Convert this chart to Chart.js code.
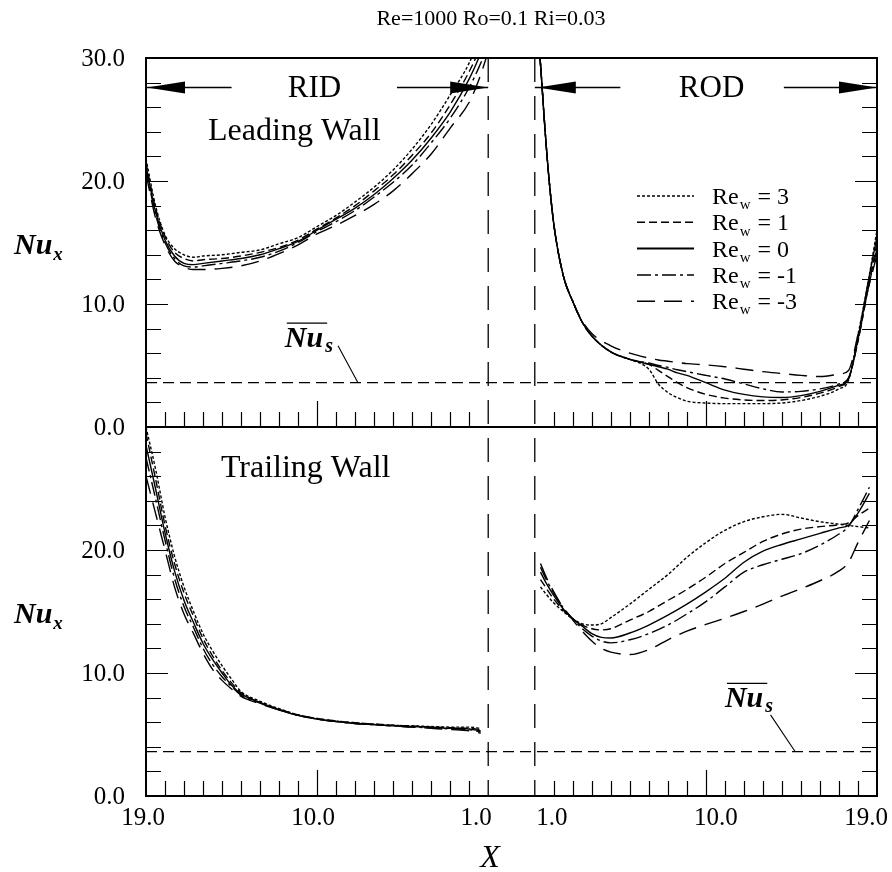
<!DOCTYPE html>
<html>
<head>
<meta charset="utf-8">
<script src="https://cdn.jsdelivr.net/npm/chart.js@4.4.0/dist/chart.umd.min.js"></script>
<style>
  body { margin: 0; background: #fff; }
  #wrap { width: 892px; height: 872px; }
</style>
</head>
<body>
<div id="wrap"><canvas id="nu" width="892" height="872"></canvas></div>
<script>
// Local Nusselt number, Re=1000 Ro=0.1 Ri=0.03, five wall suction / blowing cases
var series = ["3", "1", "0", "-1", "-3"];
var dashes = [[3, 2], [8, 4], [], [14, 4, 3, 4], [18, 9]];

// leading wall, RID part (X goes 19 -> 1)
var leadRidX = [19, 18.5, 18, 17.5, 17, 16.5, 16, 15, 14, 13, 12, 11, 10, 9, 8, 7, 6, 5, 4, 3, 2, 1.5, 1];
var leadRid = [
  [21.8, 18.0, 15.6, 14.5, 14.0, 13.8, 13.9, 14.0, 14.2, 14.4, 14.9, 15.4, 16.3, 17.2, 18.3, 19.5, 20.9, 22.6, 24.6, 27.0, 29.6, 31.5, 34],
  [21.5, 17.8, 15.5, 14.2, 13.7, 13.5, 13.6, 13.7, 13.9, 14.2, 14.6, 15.2, 16.1, 17.0, 18.0, 19.2, 20.5, 22.1, 23.9, 26.2, 28.9, 30.6, 33],
  [21.2, 17.5, 15.2, 13.9, 13.3, 13.2, 13.3, 13.5, 13.7, 14.0, 14.5, 15.1, 16.0, 16.9, 17.8, 18.9, 20.2, 21.7, 23.5, 25.6, 28.3, 30.0, 32],
  [21.0, 17.3, 15.0, 13.7, 13.1, 13.0, 13.1, 13.3, 13.5, 13.8, 14.3, 15.0, 15.9, 16.7, 17.6, 18.7, 19.9, 21.3, 23.1, 25.1, 27.6, 29.2, 31],
  [20.6, 17.0, 14.8, 13.5, 13.0, 12.8, 12.8, 12.9, 13.1, 13.5, 14.1, 14.8, 15.7, 16.4, 17.2, 18.1, 19.2, 20.6, 22.2, 24.3, 26.4, 28.2, 30.5]
];

// leading wall, ROD part (X goes 1 -> 19)
var leadRodX = [1.15, 1.3, 1.5, 1.7, 2, 2.5, 3, 3.5, 4, 5, 6, 7, 7.5, 8, 8.5, 9, 10, 11, 12, 13, 14, 15, 16, 17, 17.5, 18, 18.5, 19];
var leadRod = [
  [32, 29.5, 25, 21, 16.5, 12.3, 10.2, 8.5, 7.4, 6.1, 5.5, 4.7, 3.5, 2.8, 2.4, 2.1, 1.95, 1.9, 1.9, 1.9, 1.95, 2.15, 2.5, 3.1, 3.8, 7.5, 11.5, 16],
  [32, 29.5, 25, 21, 16.5, 12.3, 10.2, 8.5, 7.4, 6.1, 5.5, 5.1, 4.6, 4.1, 3.6, 3.2, 2.65, 2.35, 2.2, 2.15, 2.2, 2.4, 2.75, 3.3, 3.9, 7.0, 11.0, 15],
  [32, 29.5, 25, 21, 16.5, 12.3, 10.2, 8.5, 7.4, 6.1, 5.5, 5.1, 4.9, 4.7, 4.4, 4.2, 3.6, 3.0, 2.65, 2.45, 2.4, 2.55, 2.9, 3.4, 3.9, 7.2, 11.5, 15.5],
  [32, 29.5, 25, 21, 16.5, 12.3, 10.2, 8.5, 7.4, 6.1, 5.5, 5.2, 5.0, 4.85, 4.65, 4.5, 4.2, 3.9, 3.5, 3.1, 2.85, 2.9, 3.1, 3.5, 4.0, 7.0, 11.0, 14.5],
  [32, 29.5, 25, 21, 16.5, 12.3, 10.2, 8.6, 7.6, 6.6, 6.0, 5.6, 5.45, 5.35, 5.25, 5.15, 5.05, 4.9, 4.7, 4.5, 4.35, 4.2, 4.1, 4.3, 4.6, 7.5, 11.0, 14]
];

// trailing wall, RID part
var trailRidX = [19, 18.5, 18, 17.5, 17, 16.5, 16, 15.5, 15, 14.5, 14, 13, 12, 11, 10, 9, 8, 7, 6, 5, 4, 3, 2, 1.4];
var trailRid = [
  [30.0, 26.6, 22.7, 19.5, 17.0, 15.0, 13.2, 11.8, 10.6, 9.5, 8.5, 7.7, 7.1, 6.6, 6.3, 6.1, 5.95, 5.85, 5.75, 5.7, 5.65, 5.6, 5.6, 5.5],
  [29.5, 25.8, 22.0, 18.9, 16.5, 14.6, 12.8, 11.4, 10.2, 9.2, 8.4, 7.6, 7.05, 6.6, 6.3, 6.1, 5.95, 5.85, 5.75, 5.7, 5.6, 5.55, 5.5, 5.4],
  [28.5, 25.0, 21.4, 18.3, 15.9, 14.1, 12.4, 11.1, 10.0, 9.0, 8.3, 7.6, 7.0, 6.55, 6.25, 6.05, 5.9, 5.8, 5.7, 5.65, 5.6, 5.5, 5.45, 5.3],
  [27.5, 24.2, 20.8, 17.7, 15.4, 13.7, 12.0, 10.7, 9.7, 8.9, 8.2, 7.55, 7.0, 6.55, 6.25, 6.05, 5.9, 5.8, 5.7, 5.6, 5.55, 5.45, 5.4, 5.2],
  [26.0, 23.0, 20.0, 17.0, 14.8, 13.2, 11.6, 10.3, 9.4, 8.7, 8.1, 7.5, 7.0, 6.55, 6.25, 6.05, 5.9, 5.8, 5.7, 5.6, 5.5, 5.4, 5.3, 5.1]
];

// trailing wall, ROD part
var trailRodX = [1.3, 1.6, 2, 2.5, 3, 3.5, 4, 4.5, 5, 6, 7, 8, 9, 10, 11, 12, 13, 14, 15, 16, 17, 17.5, 18, 18.6];
var trailRod = [
  [17.0, 16.4, 15.7, 15.0, 14.4, 14.0, 13.9, 14.0, 14.5, 15.6, 16.8, 18.0, 19.4, 20.6, 21.6, 22.3, 22.7, 22.9, 22.6, 22.3, 22.1, 22.0, 21.9, 21.8],
  [17.6, 16.9, 16.0, 15.1, 14.4, 13.9, 13.6, 13.5, 13.6, 14.3, 15.0, 15.9, 16.8, 17.8, 18.9, 19.8, 20.7, 21.3, 21.7, 21.9, 22.05, 22.2, 22.8, 23.4],
  [18.2, 17.3, 16.3, 15.2, 14.4, 13.8, 13.2, 12.9, 12.85, 13.25, 13.9, 14.7, 15.6, 16.6, 17.7, 19.0, 19.9, 20.45, 20.9, 21.35, 21.8, 22.0, 23.0, 24.6],
  [18.6, 17.6, 16.5, 15.3, 14.4, 13.6, 13.0, 12.6, 12.45, 12.7, 13.2, 13.9, 14.8, 15.8, 17.0, 18.2, 18.8, 19.25, 19.7, 20.4, 21.3, 21.9, 23.3, 25.1],
  [18.9, 17.8, 16.6, 15.3, 14.3, 13.4, 12.6, 12.0, 11.7, 11.5, 11.9, 12.7, 13.4, 13.95, 14.45, 15.0, 15.6, 16.25, 16.85, 17.5, 18.3, 19.0, 20.6, 22.4]
];

var NU_S = 3.6;            // averaged Nu of the straight duct
var xTicks = [19, 10, 1];  // labelled X values in each part
var yTicks = [0, 10, 20, 30];

var GAP = 2.45;            // blank space between the two parts, in X units
var XMAX = 36 + GAP;
function ridPos(X) { return 19 - X; }
function rodPos(X) { return 18 + GAP + (X - 1); }

var datasets = [];
function addPart(xs, vals, posFn, lift) {
  vals.forEach(function (v, i) {
    datasets.push({
      label: "Re_w = " + series[i],
      data: xs.map(function (X, k) { return { x: posFn(X), y: v[k] + lift }; }),
      borderColor: "#000",
      borderWidth: 1.4,
      borderDash: dashes[i],
      pointRadius: 0,
      showLine: true,
      cubicInterpolationMode: "monotone"
    });
  });
}
// top panel is lifted by 30 so both walls share one y scale
addPart(leadRidX, leadRid, ridPos, 30);
addPart(leadRodX, leadRod, rodPos, 30);
addPart(trailRidX, trailRid, ridPos, 0);
addPart(trailRodX, trailRod, rodPos, 0);
[30, 0].forEach(function (lift) {
  datasets.push({
    label: "Nu_s",
    data: [{ x: 0, y: NU_S + lift }, { x: XMAX, y: NU_S + lift }],
    borderColor: "#000",
    borderWidth: 1.2,
    borderDash: [11, 6],
    pointRadius: 0,
    showLine: true
  });
});

var SERIF = "'Liberation Serif', 'DejaVu Serif', serif";

function subText(c, x, y, main, sub, rest, size, italic, bold) {
  var st = (italic ? "italic " : "") + (bold ? "bold " : "");
  c.font = st + size + "px " + SERIF;
  c.fillText(main, x, y);
  var w = c.measureText(main).width;
  c.font = st + Math.round(size * 0.62) + "px " + SERIF;
  c.fillText(sub, x + w + 1, y + size * 0.22);
  var w2 = c.measureText(sub).width;
  if (rest) {
    c.font = st + size + "px " + SERIF;
    c.fillText(rest, x + w + w2 + 2, y);
  }
  return w;
}

function arrowHead(c, tipX, y, dir) {
  c.beginPath();
  c.moveTo(tipX, y);
  c.lineTo(tipX - dir * 38, y - 6);
  c.lineTo(tipX - dir * 38, y + 6);
  c.closePath();
  c.fill();
}

var deco = {
  id: "deco",
  afterDatasetsDraw: function (chart) {
    var c = chart.ctx, a = chart.chartArea;
    var sx = chart.scales.x, sy = chart.scales.y;
    var px = function (u) { return sx.getPixelForValue(u); };
    var py = function (v) { return sy.getPixelForValue(v); };
    c.save();
    c.strokeStyle = "#000";
    c.fillStyle = "#000";

    // part separators
    c.lineWidth = 1.3;
    c.setLineDash([24, 14]);
    [18, 18 + GAP].forEach(function (u) {
      c.beginPath(); c.moveTo(px(u), a.top); c.lineTo(px(u), a.bottom); c.stroke();
    });
    c.setLineDash([]);

    // frame and panel divider
    c.lineWidth = 2;
    c.strokeRect(a.left, a.top, a.right - a.left, a.bottom - a.top);
    c.beginPath(); c.moveTo(a.left, py(30)); c.lineTo(a.right, py(30)); c.stroke();

    // y ticks, both sides, pointing inward
    c.lineWidth = 1.2;
    for (var v = 2; v < 60; v += 2) {
      if (v === 30) continue;
      var len = v % 10 === 0 ? 22 : 15;
      var y = Math.round(py(v)) + 0.5;
      c.beginPath();
      c.moveTo(a.left, y); c.lineTo(a.left + len, y);
      c.moveTo(a.right, y); c.lineTo(a.right - len, y);
      c.stroke();
    }
    // x ticks at the bottom of each panel
    [0, 30].forEach(function (base) {
      var y0 = py(base);
      for (var X = 2; X <= 18; X++) {
        var len = X === 10 ? 26 : 15;
        [ridPos(X), rodPos(X)].forEach(function (u) {
          var x = Math.round(px(u)) + 0.5;
          c.beginPath(); c.moveTo(x, y0); c.lineTo(x, y0 - len); c.stroke();
        });
      }
    });

    // tick labels
    c.font = "25px " + SERIF;
    c.textAlign = "right";
    c.textBaseline = "middle";
    [30, 0].forEach(function (lift) {
      yTicks.forEach(function (t) {
        if (lift === 0 && t === 30) return;
        c.fillText(t.toFixed(1), a.left - 21, py(t + lift) + 1);
      });
    });
    c.textAlign = "center";
    c.textBaseline = "top";
    var nudgeL = [-3, -4, -12], nudgeR = [17, 10, -11];
    xTicks.forEach(function (t, i) {
      c.fillText(t.toFixed(1), px(ridPos(t)) + nudgeL[i], a.bottom + 10);
    });
    xTicks.slice().reverse().forEach(function (t, i) {
      c.fillText(t.toFixed(1), px(rodPos(t)) + nudgeR[i], a.bottom + 10);
    });

    // axis titles
    c.textAlign = "left";
    c.textBaseline = "alphabetic";
    [45, 15].forEach(function (v) {
      subText(c, 14, py(v) + 11, "Nu", "x", "", 30, true, true);
    });
    c.textAlign = "center";
    c.font = "italic 32px " + SERIF;
    c.fillText("X", 490, 867);
    c.font = "22px " + SERIF;
    c.fillText("Re=1000 Ro=0.1 Ri=0.03", 491, 25);

    // RID / ROD arrows
    var ya = py(57.6);
    c.lineWidth = 1.3;
    c.beginPath();
    c.moveTo(px(0), ya); c.lineTo(px(ridPos(14.5)), ya);
    c.moveTo(px(ridPos(5.8)), ya); c.lineTo(px(18), ya);
    c.moveTo(px(18 + GAP), ya); c.lineTo(px(rodPos(5.5)), ya);
    c.moveTo(px(rodPos(14.1)), ya); c.lineTo(px(XMAX), ya);
    c.stroke();
    arrowHead(c, px(0) + 1, ya, -1);
    arrowHead(c, px(18), ya, 1);
    arrowHead(c, px(18 + GAP) + 3, ya, -1);
    arrowHead(c, px(XMAX), ya, 1);
    c.font = "31px " + SERIF;
    c.textBaseline = "middle";
    c.fillText("RID", px(ridPos(10.3)) + 3, ya + 1);
    c.fillText("ROD", px(rodPos(10.3)), ya + 1);
    c.font = "32px " + SERIF;
    c.fillText("Leading Wall", px(ridPos(11.2)), py(54.0));
    c.fillText("Trailing Wall", px(ridPos(10.6)), py(26.6));

    // legend
    c.textAlign = "left";
    c.textBaseline = "alphabetic";
    series.forEach(function (s, i) {
      var y = 196 + i * 26.3;
      c.lineWidth = i === 2 ? 2 : 1.5;
      c.setLineDash(dashes[i]);
      c.beginPath(); c.moveTo(637, y); c.lineTo(694, y); c.stroke();
      c.setLineDash([]);
      subText(c, 712, y + 8, "Re", "w", " = " + s, 24, false, false);
    });

    // Nu_s labels with leader lines
    function nuBar(x, y) {
      c.font = "italic bold 30px " + SERIF;
      var w = c.measureText("Nu").width;
      c.fillText("Nu", x, y);
      c.lineWidth = 1.3;
      c.beginPath(); c.moveTo(x + 2, y - 24); c.lineTo(x + w + 4, y - 24); c.stroke();
      c.font = "italic bold 20px " + SERIF;
      c.fillText("s", x + w + 2, y + 5);
    }
    nuBar(px(ridPos(11.7)), py(36.5));
    nuBar(px(rodPos(11.0)), py(7.2));
    c.lineWidth = 1.1;
    c.beginPath();
    c.moveTo(px(ridPos(8.9)), py(36.6)); c.lineTo(px(ridPos(7.85)), py(NU_S + 30));
    c.moveTo(px(rodPos(13.4)), py(6.6)); c.lineTo(px(rodPos(14.7)), py(NU_S));
    c.stroke();
    c.restore();
  }
};

new Chart(document.getElementById("nu"), {
  type: "scatter",
  data: { datasets: datasets },
  options: {
    responsive: false,
    animation: false,
    layout: { padding: { left: 146, right: 15, top: 58, bottom: 76 } },
    scales: {
      x: { type: "linear", min: 0, max: XMAX, display: false },
      y: { type: "linear", min: 0, max: 60, display: false }
    },
    plugins: { legend: { display: false }, tooltip: { enabled: false } }
  },
  plugins: [deco]
});
</script>
</body>
</html>
